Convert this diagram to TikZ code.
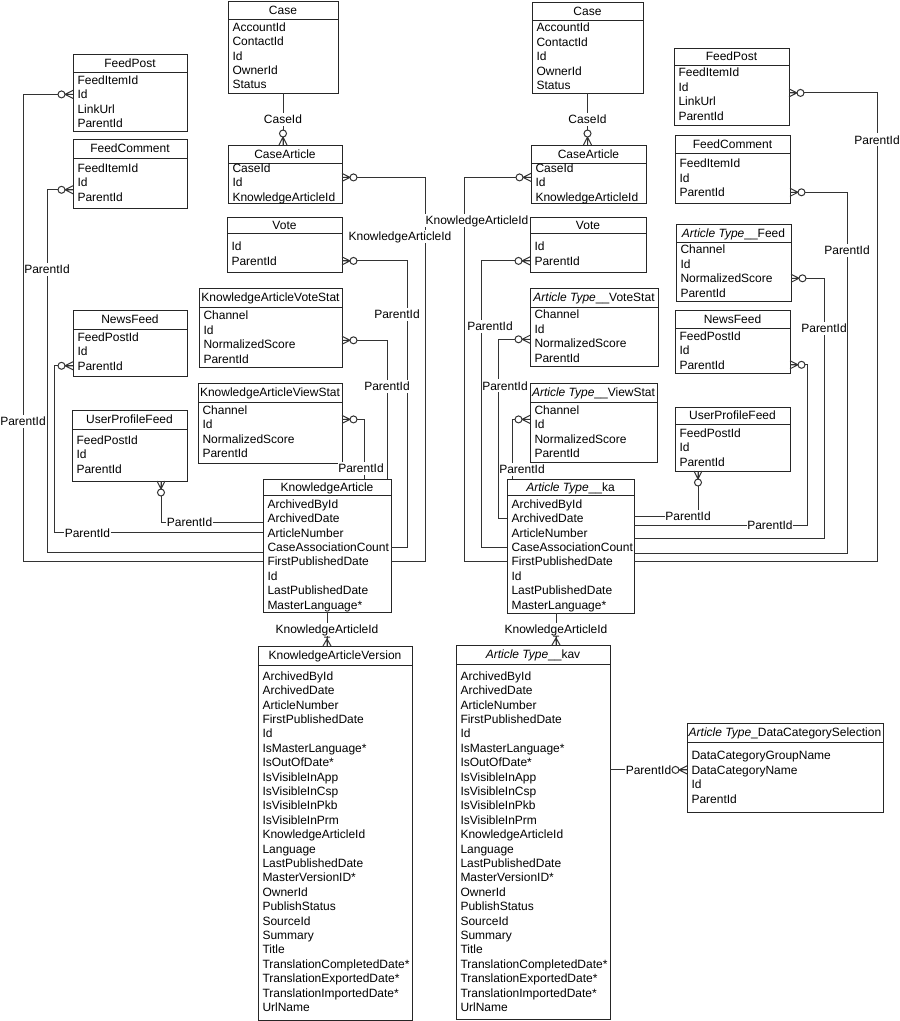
\documentclass[tikz,border=0pt]{standalone}
\usepackage{fontspec}
\setmainfont{Liberation Sans}
\usetikzlibrary{calc}

\tikzset{
  conn/.style={draw=black!80, line width=1pt},
  ebox/.style={draw=black!85, line width=1pt, inner sep=0pt, outer sep=0pt},
  ehead/.style={font=\fontsize{12}{14}\selectfont, inner sep=0pt, text height=10.3pt, text depth=1.7pt},
  erow/.style={font=\fontsize{12}{14}\selectfont, anchor=west, align=left, inner xsep=4.5pt, inner ysep=0pt, outer sep=0pt, text height=10.3pt, text depth=1.7pt},
  lbl/.style={font=\fontsize{12}{14}\selectfont, fill=white, inner xsep=0.5pt, inner ysep=0.5pt, text height=10.3pt, text depth=1.7pt},
  zmany/.pic={\draw[conn] (0,4) -- (8,0) -- (0,-4) (0,0) -- (8,0);
              \draw[conn, fill=white] (11.5,0) circle (3.5pt);},
  omany/.pic={\draw[conn] (0,4) -- (7,0) -- (0,-4) (0,0) -- (9,0) (9,3) -- (9,-3);},
}

\newcommand{\entity}[9]{%
  \node[ebox, minimum width=#3-#2, minimum height=#7-#4, anchor=north west] (#1) at (#2,#4) {};
  \draw[ebox] (#2,#5) -- (#3,#5);
  \node[ehead] (#1-h) at ({(#2+#3)/2},{(#4+#5)/2}) {#8};
  \pgfmathsetmacro\tw{#3-#2-9}
  \foreach \r [count=\i] in {#9}
    \node[erow, text width=\tw pt] (#1-\i) at (#2,{#6+(\i-1)*14.4}) {\r};
}

\begin{document}
\begin{tikzpicture}[x=1pt,y=-1pt]
  \useasboundingbox (0,0) rectangle (900,1021);

  \entity{caseL}{228}{338}{1}{19}{27}{93}{Case}{AccountId,ContactId,Id,OwnerId,Status}
  \entity{caL}{228}{342}{145}{163}{168}{203}{CaseArticle}{CaseId,Id,KnowledgeArticleId}
  \entity{vL}{227}{342}{217}{233}{246.5}{272}{Vote}{Id,ParentId}
  \entity{vsL}{199}{342}{288}{307}{315.5}{367}{KnowledgeArticleVoteStat}{Channel,Id,NormalizedScore,ParentId}
  \entity{wsL}{198}{342}{383}{402}{410}{463}{KnowledgeArticleViewStat}{Channel,Id,NormalizedScore,ParentId}
  \entity{kaL}{263}{391}{479}{495}{504}{612}{KnowledgeArticle}{ArchivedById,ArchivedDate,ArticleNumber,CaseAssociationCount,FirstPublishedDate,Id,LastPublishedDate,MasterLanguage*}
  \entity{kavL}{258}{412}{646}{665}{676}{1020}{KnowledgeArticleVersion}{ArchivedById,ArchivedDate,ArticleNumber,FirstPublishedDate,Id,IsMasterLanguage*,IsOutOfDate*,IsVisibleInApp,IsVisibleInCsp,IsVisibleInPkb,IsVisibleInPrm,KnowledgeArticleId,Language,LastPublishedDate,MasterVersionID*,OwnerId,PublishStatus,SourceId,Summary,Title,TranslationCompletedDate*,TranslationExportedDate*,TranslationImportedDate*,UrlName}
  \entity{fpL}{73}{187}{54}{72}{80}{131}{FeedPost}{FeedItemId,Id,LinkUrl,ParentId}
  \entity{fcL}{73}{187}{139}{158}{168}{208}{FeedComment}{FeedItemId,Id,ParentId}
  \entity{nfL}{73}{187}{310}{329}{337}{376}{NewsFeed}{FeedPostId,Id,ParentId}
  \entity{upL}{72}{187}{410}{429}{440}{481}{UserProfileFeed}{FeedPostId,Id,ParentId}

  \entity{caseR}{532}{643}{2}{20}{27.5}{93}{Case}{AccountId,ContactId,Id,OwnerId,Status}
  \entity{caR}{531}{646}{145}{163}{168}{203}{CaseArticle}{CaseId,Id,KnowledgeArticleId}
  \entity{vR}{530}{646}{217}{233}{246.5}{272}{Vote}{Id,ParentId}
  \entity{vsR}{530}{658}{288}{307}{314.5}{366}{\textit{Article Type}\_\_VoteStat}{Channel,Id,NormalizedScore,ParentId}
  \entity{wsR}{530}{657}{383}{402}{410}{462}{\textit{Article Type}\_\_ViewStat}{Channel,Id,NormalizedScore,ParentId}
  \entity{kaR}{507}{634}{479}{495}{504}{613}{\textit{Article Type}\_\_ka}{ArchivedById,ArchivedDate,ArticleNumber,CaseAssociationCount,FirstPublishedDate,Id,LastPublishedDate,MasterLanguage*}
  \entity{kavR}{456}{610}{645}{664}{676}{1019}{\textit{Article Type}\_\_kav}{ArchivedById,ArchivedDate,ArticleNumber,FirstPublishedDate,Id,IsMasterLanguage*,IsOutOfDate*,IsVisibleInApp,IsVisibleInCsp,IsVisibleInPkb,IsVisibleInPrm,KnowledgeArticleId,Language,LastPublishedDate,MasterVersionID*,OwnerId,PublishStatus,SourceId,Summary,Title,TranslationCompletedDate*,TranslationExportedDate*,TranslationImportedDate*,UrlName}
  \entity{fpR}{674}{789}{48}{65}{72.5}{125}{FeedPost}{FeedItemId,Id,LinkUrl,ParentId}
  \entity{fcR}{675}{790}{135}{153}{163.5}{203}{FeedComment}{FeedItemId,Id,ParentId}
  \entity{fdR}{676}{791}{224}{242}{249.5}{301}{\textit{Article Type}\_\_Feed}{Channel,Id,NormalizedScore,ParentId}
  \entity{nfR}{675}{790}{310}{328}{336}{373}{NewsFeed}{FeedPostId,Id,ParentId}
  \entity{upR}{675}{790}{407}{424}{433}{471}{UserProfileFeed}{FeedPostId,Id,ParentId}
  \entity{dcs}{687}{883}{723}{742}{755.5}{812}{\textit{Article Type}\_DataCategorySelection}{DataCategoryGroupName,DataCategoryName,Id,ParentId}

  \coordinate (upLfoot) at ($(upL.south)+(31.5,0)$);
  \coordinate (upRfoot) at ($(upR.south)+(-34.5,0)$);
  \coordinate (kaRfoot) at ($(kaR.south)+(-14.5,0)$);

  \draw[conn] (caseL.south) -- node[lbl]{CaseId} (caseL.south |- caL.north);
  \draw[conn] (caseR.south) -- node[lbl]{CaseId} (caseR.south |- caR.north);
  \draw[conn] (kaL.south) -- node[lbl]{KnowledgeArticleId} (kaL.south |- kavL.north);
  \draw[conn] (kaRfoot) -- node[lbl]{KnowledgeArticleId} (kaRfoot |- kavR.north);

  \draw[conn] (fpL-2.west) -- ++(-50,0) |- node[lbl,pos=.35]{ParentId} (kaL-5.west);
  \draw[conn] ($(fcL-3.west)+(0,-7)$) -- ++(-26,0) |- node[lbl,pos=.11]{ParentId} ($(kaL-4.west)+(0,5)$);
  \draw[conn] (nfL-3.west) -- ++(-19,0) |- node[lbl,pos=.58]{ParentId} (kaL-3.west);
  \draw[conn] (upLfoot) |- node[lbl,pos=.64]{ParentId} ($(kaL-2.west)+(0,4)$);

  \draw[conn] ($(caL-2.east)+(0,-5)$) -- ++(83,0) |- node[lbl,pos=.077,xshift=-25pt]{KnowledgeArticleId} (kaL-5.east);
  \draw[conn] (vL-2.east) -- ++(65,0) |- node[lbl,pos=.093,xshift=-10pt]{ParentId} (kaL-4.east);
  \draw[conn] ($(vsL-3.east)+(0,-4)$) -| node[lbl,pos=.665]{ParentId} ([xshift=-4pt]kaL.north east);
  \draw[conn] ($(wsL-2.east)+(0,-5)$) -| node[lbl,pos=.91,xshift=-3pt]{ParentId} ([xshift=-27pt]kaL.north east);

  \draw[conn] ($(caR-2.west)+(0,-5)$) -- ++(-67,0) |- node[lbl,pos=.056,xshift=13pt]{KnowledgeArticleId} (kaR-5.west);
  \draw[conn] (vR-2.west) -- ++(-49,0) |- node[lbl,pos=.114,xshift=9pt]{ParentId} (kaR-4.west);
  \draw[conn] ($(vsR-3.west)+(0,-4)$) -- ++(-32,0) |- node[lbl,pos=.13,xshift=7pt]{ParentId} (kaR-2.west);
  \draw[conn] ($(wsR-2.west)+(0,-5)$) -| node[lbl,pos=.92,xshift=10pt]{ParentId} ([xshift=5pt]kaR.north west);

  \draw[conn] ($(fpR-2.east)+(0,6)$) -- ++(88,0) |- node[lbl,pos=.05]{ParentId} (kaR-5.east);
  \draw[conn] (fcR-3.east) -- ++(57,0) |- node[lbl,pos=.08]{ParentId} ($(kaR-4.east)+(0,6)$);
  \draw[conn] (fdR-3.east) -- ++(33,0) |- node[lbl,pos=.096]{ParentId} ($(kaR-3.east)+(0,6)$);
  \draw[conn] (nfR-3.east) -- ++(17,0) |- node[lbl,pos=.607]{ParentId} ($(kaR-2.east)+(0,7)$);
  \draw[conn] (upRfoot) |- node[lbl,pos=.578]{ParentId} ($(kaR-2.east)+(0,-2)$);
  \draw[conn] (dcs-2.west) -- node[lbl]{ParentId} (dcs-2.west -| kavR.east);

  \pic[rotate=90] at (caseL.south |- caL.north) {zmany};
  \pic[rotate=90] at (caseR.south |- caR.north) {zmany};
  \pic[rotate=90] at (kaL.south |- kavL.north) {omany};
  \pic[rotate=90] at (kaRfoot |- kavR.north) {omany};
  \pic[rotate=180] at (fpL-2.west) {zmany};
  \pic[rotate=180] at ($(fcL-3.west)+(0,-7)$) {zmany};
  \pic[rotate=180] at (nfL-3.west) {zmany};
  \pic[rotate=-90] at (upLfoot) {zmany};
  \pic at ($(caL-2.east)+(0,-5)$) {zmany};
  \pic at (vL-2.east) {zmany};
  \pic at ($(vsL-3.east)+(0,-4)$) {zmany};
  \pic at ($(wsL-2.east)+(0,-5)$) {zmany};
  \pic[rotate=180] at ($(caR-2.west)+(0,-5)$) {zmany};
  \pic[rotate=180] at (vR-2.west) {zmany};
  \pic[rotate=180] at ($(vsR-3.west)+(0,-4)$) {zmany};
  \pic[rotate=180] at ($(wsR-2.west)+(0,-5)$) {zmany};
  \pic at ($(fpR-2.east)+(0,6)$) {zmany};
  \pic at (fcR-3.east) {zmany};
  \pic at (fdR-3.east) {zmany};
  \pic at (nfR-3.east) {zmany};
  \pic[rotate=-90] at (upRfoot) {zmany};
  \pic[rotate=180] at (dcs-2.west) {zmany};
\end{tikzpicture}
\end{document}
